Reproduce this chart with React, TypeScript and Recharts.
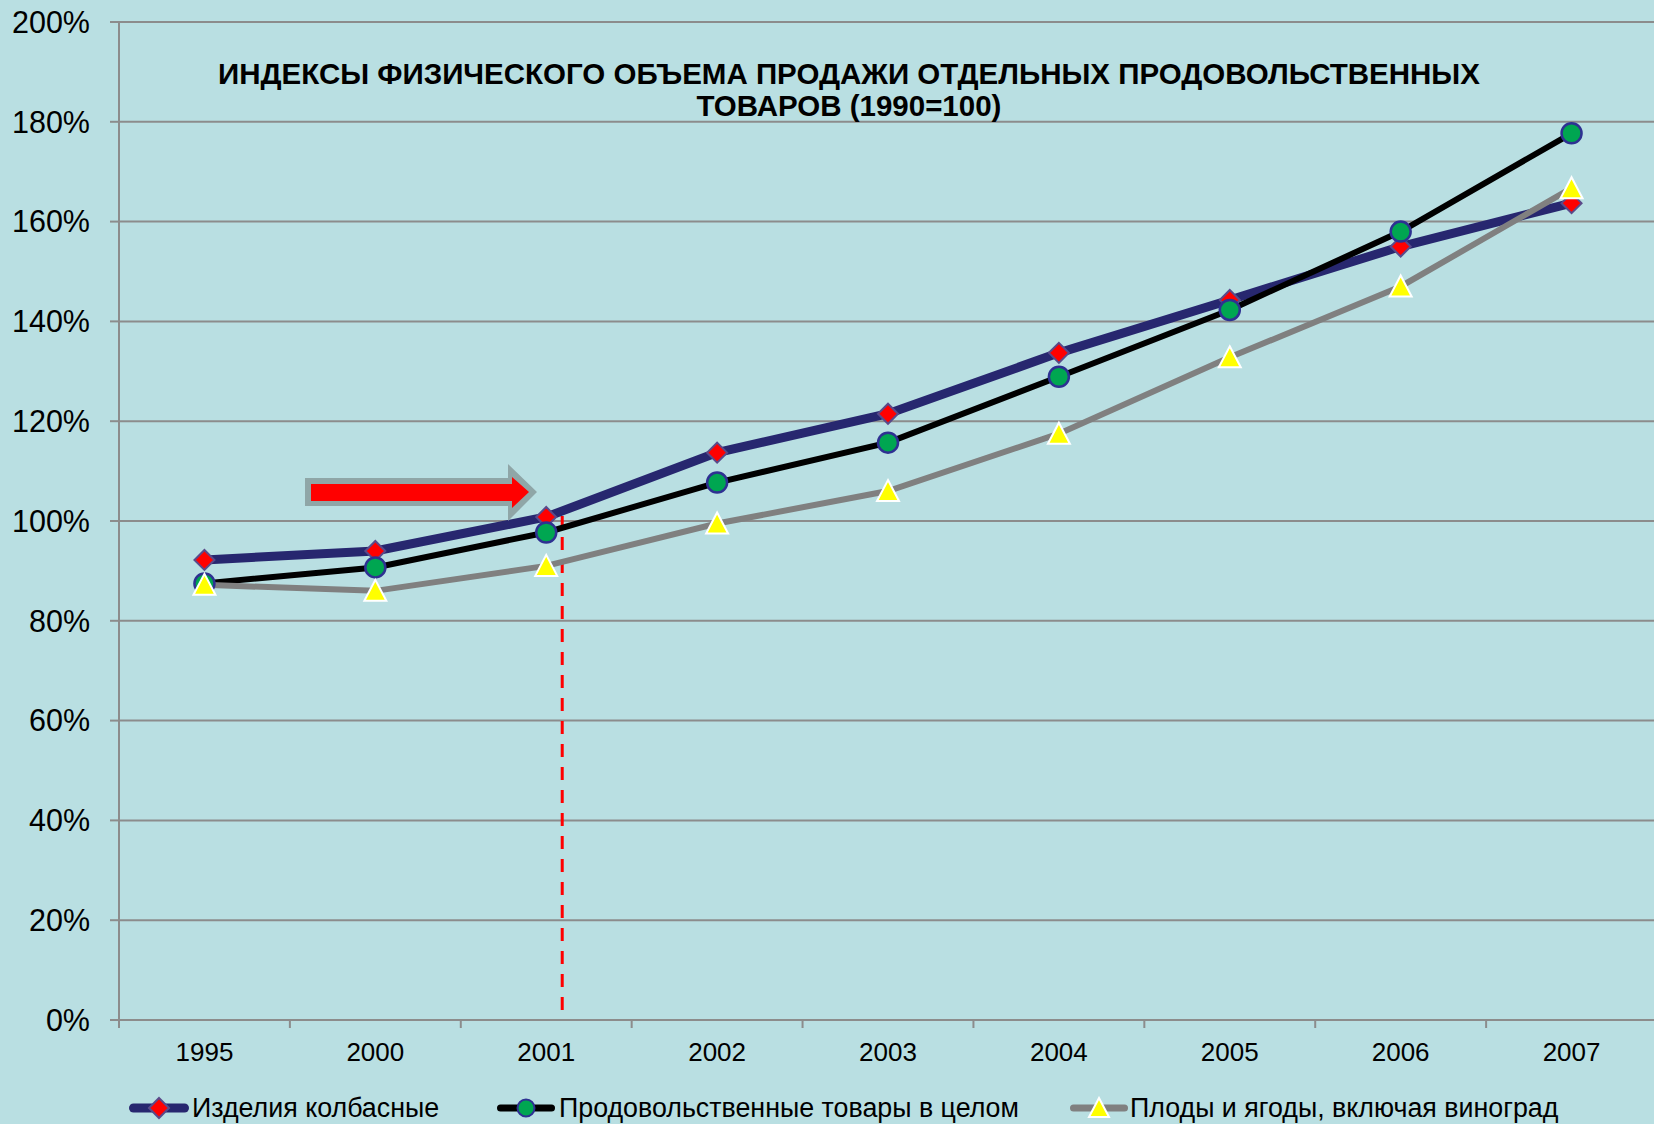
import { LineChart, Line, XAxis, YAxis, CartesianGrid, Legend, ReferenceLine } from "recharts";

const years = ["1995", "2000", "2001", "2002", "2003", "2004", "2005", "2006", "2007"];
const sausages = [92.2, 94.0, 100.8, 113.7, 121.5, 133.7, 144.3, 155.0, 163.7];
const foodTotal = [87.5, 90.7, 97.7, 107.7, 115.7, 128.9, 142.3, 158.0, 177.7];
const fruits = [87.2, 86.0, 91.0, 99.5, 106.0, 117.5, 132.8, 147.0, 166.7];
const yTicks = [0, 20, 40, 60, 80, 100, 120, 140, 160, 180, 200];
const seriesNames = [
  "Изделия колбасные",
  "Продовольственные товары в целом",
  "Плоды и ягоды, включая виноград",
];
const titleLines = [
  "ИНДЕКСЫ ФИЗИЧЕСКОГО ОБЪЕМА ПРОДАЖИ ОТДЕЛЬНЫХ ПРОДОВОЛЬСТВЕННЫХ",
  "ТОВАРОВ (1990=100)",
];

const data = years.map((year, i) => ({
  year,
  sausages: sausages[i],
  foodTotal: foodTotal[i],
  fruits: fruits[i],
}));

const FONT = "'Liberation Sans', Arial, sans-serif";
const BG = "#B9DFE2";
const GRID = "#8C8C8C";
const NAVY = "#27276F";
const CHART_W = 1657;
const CHART_H = 1124;
const Y_AXIS_W = 119;
const BAND = (CHART_W - Y_AXIS_W) / years.length;

const Diamond = (p: any) => (
  <polygon
    key={`d-${p.index}`}
    points={`${p.cx},${p.cy - 10} ${p.cx + 10},${p.cy} ${p.cx},${p.cy + 10} ${p.cx - 10},${p.cy}`}
    fill="#FF0000"
    stroke="#5A4A8A"
    strokeWidth={2}
  />
);

const Circle = (p: any) => (
  <circle key={`c-${p.index}`} cx={p.cx} cy={p.cy} r={10} fill="#00A651" stroke="#2E3192" strokeWidth={2.5} />
);

const Triangle = (p: any) => (
  <polygon
    key={`t-${p.index}`}
    points={`${p.cx},${p.cy - 11} ${p.cx + 11},${p.cy + 10} ${p.cx - 11},${p.cy + 10}`}
    fill="#FFFF00"
    stroke="#FFFFFF"
    strokeWidth={2}
  />
);

const XTick = (p: any) => (
  <g>
    <line x1={p.x - BAND / 2} x2={p.x - BAND / 2} y1={p.y} y2={p.y + 8} stroke={GRID} strokeWidth={2} />
    <text x={p.x} y={p.y + 41} textAnchor="middle" fontSize={26} fontFamily={FONT} fill="#000">
      {p.payload.value}
    </text>
  </g>
);

const legendItems = [
  { name: seriesNames[0], color: NAVY, width: 9, marker: "diamond", iconLeft: 124, textLeft: 192 },
  { name: seriesNames[1], color: "#000", width: 7, marker: "circle", iconLeft: 491, textLeft: 559 },
  { name: seriesNames[2], color: "#808080", width: 7, marker: "triangle", iconLeft: 1064, textLeft: 1130 },
];

const LegendContent = () => (
  <div style={{ position: "relative", width: 1654, height: 40 }}>
    {legendItems.map((it) => (
      <div key={it.name}>
        <svg width={70} height={24} style={{ position: "absolute", left: it.iconLeft, top: 12 }}>
          <line x1={9.5} x2={60.5} y1={12} y2={12} stroke={it.color} strokeWidth={it.width} strokeLinecap="round" />
          {it.marker === "diamond" && <Diamond cx={35} cy={12} index={0} />}
          {it.marker === "circle" && <circle cx={35} cy={12} r={8.5} fill="#00A651" stroke="#2E3192" strokeWidth={2} />}
          {it.marker === "triangle" && (
            <polygon points="35,2 45,21 25,21" fill="#FFFF00" stroke="#FFFFFF" strokeWidth={2} />
          )}
        </svg>
        <span
          style={{
            position: "absolute",
            left: it.textLeft,
            top: 9,
            fontSize: 26.8,
            lineHeight: "30px",
            fontFamily: FONT,
            color: "#000",
            whiteSpace: "nowrap",
          }}
        >
          {it.name}
        </span>
      </div>
    ))}
  </div>
);

const DashedMarker = (p: any) => (
  <line
    x1={p.x1 + 16}
    x2={p.x2 + 16}
    y1={p.y1}
    y2={p.y2}
    stroke="#FF0000"
    strokeWidth={3}
    strokeDasharray="13 10"
  />
);

export default function App() {
  return (
    <div
      style={{
        position: "fixed",
        left: 0,
        top: 0,
        width: 1654,
        height: 1124,
        overflow: "hidden",
        background: BG,
      }}
    >
      <LineChart
        width={CHART_W}
        height={CHART_H}
        data={data}
        margin={{ top: 22, right: 0, bottom: 0, left: 0 }}
      >
        <CartesianGrid horizontal vertical={false} stroke={GRID} strokeWidth={2} />
        <XAxis
          dataKey="year"
          scale="band"
          height={64}
          tickSize={0}
          tickMargin={0}
          tickLine={false}
          axisLine={{ stroke: GRID, strokeWidth: 2 }}
          tick={<XTick />}
          interval={0}
        />
        <YAxis
          width={Y_AXIS_W}
          domain={[0, 200]}
          ticks={yTicks}
          tickFormatter={(v) => `${v}%`}
          tickSize={9}
          tickMargin={20}
          tickLine={{ stroke: GRID, strokeWidth: 2 }}
          axisLine={{ stroke: GRID, strokeWidth: 2 }}
          tick={{ fontSize: 30.5, fill: "#000", fontFamily: FONT }}
        />
        <ReferenceLine
          segment={[
            { x: "2001", y: 2 },
            { x: "2001", y: 101 },
          ]}
          shape={DashedMarker}
        />
        <Line
          dataKey="sausages"
          name={seriesNames[0]}
          stroke={NAVY}
          strokeWidth={9}
          type="linear"
          dot={Diamond}
          activeDot={false}
          isAnimationActive={false}
        />
        <Line
          dataKey="foodTotal"
          name={seriesNames[1]}
          stroke="#000000"
          strokeWidth={6}
          type="linear"
          dot={Circle}
          activeDot={false}
          isAnimationActive={false}
        />
        <Line
          dataKey="fruits"
          name={seriesNames[2]}
          stroke="#808080"
          strokeWidth={6}
          type="linear"
          dot={Triangle}
          activeDot={false}
          isAnimationActive={false}
        />
        <Legend content={<LegendContent />} verticalAlign="bottom" wrapperStyle={{ left: 0, width: 1654 }} />
      </LineChart>
      <svg
        width={1654}
        height={1124}
        style={{ position: "absolute", left: 0, top: 0, pointerEvents: "none" }}
      >
        {titleLines.map((t, i) => (
          <text
            key={t}
            x={849}
            y={84 + i * 32}
            textAnchor="middle"
            fontSize={29.5}
            fontWeight="bold"
            fontFamily={FONT}
            fill="#000"
          >
            {t}
          </text>
        ))}
        <polygon points="305,478 508,478 508,464 537,492 508,521 508,506 305,506" fill="#8FA6A7" />
        <polygon points="311,484 512,484 512,477 529,492 512,508 512,501 311,501" fill="#FF0000" />
      </svg>
    </div>
  );
}
